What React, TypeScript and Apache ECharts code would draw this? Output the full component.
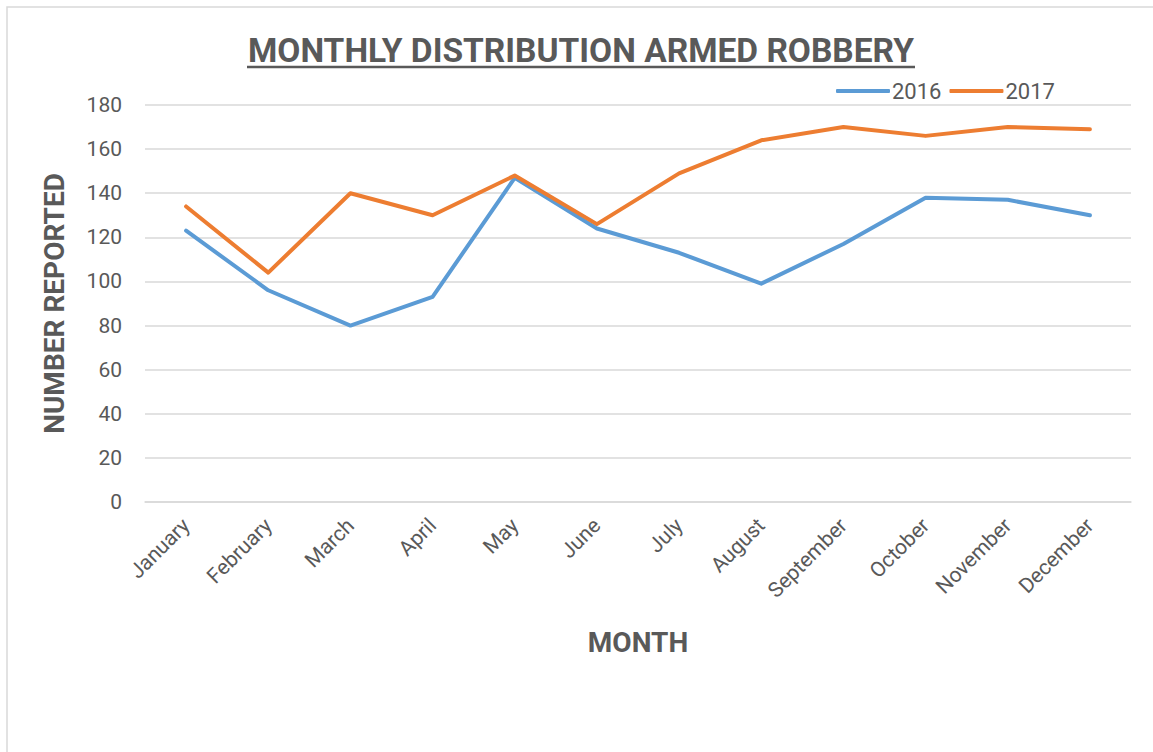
import React, { useEffect, useRef } from "react";
import * as echarts from "echarts";

const months = [
  "January", "February", "March", "April", "May", "June",
  "July", "August", "September", "October", "November", "December",
];
const series2016 = [123, 96, 80, 93, 147, 124, 113, 99, 117, 138, 137, 130];
const series2017 = [134, 104, 140, 130, 148, 126, 149, 164, 170, 166, 170, 169];
const yTicks = { min: 0, max: 180, interval: 20 };

const TEXT = "#595959";
const FONT = "Roboto, 'Open Sans', sans-serif";

export default function App() {
  const ref = useRef<HTMLDivElement>(null);
  useEffect(() => {
    if (!ref.current) return;
    const chart = echarts.init(ref.current, undefined, { renderer: "svg" });
    chart.setOption({
      animation: false,
      backgroundColor: "#ffffff",
      textStyle: { fontFamily: FONT },
      grid: { left: 145, right: 22, top: 105, bottom: 250, containLabel: false },
      legend: {
        left: 831,
        top: 75,
        itemWidth: 54,
        itemHeight: 4,
        itemGap: 8,
        icon: "roundRect",
        textStyle: { color: TEXT, fontSize: 22, fontFamily: FONT, padding: [0, 0, 0, -3] },
        data: ["2016", "2017"],
      },
      xAxis: {
        type: "category",
        data: months,
        boundaryGap: true,
        axisLine: { show: true, lineStyle: { color: "#D9D9D9", width: 1.5 } },
        axisTick: { show: false },
        axisLabel: { rotate: 45, color: TEXT, fontSize: 21, margin: 20, fontFamily: FONT },
        name: "MONTH",
        nameLocation: "middle",
        nameGap: 126,
        nameTextStyle: { color: TEXT, fontSize: 28, fontWeight: "bold", fontFamily: FONT },
      },
      yAxis: {
        type: "value",
        min: yTicks.min,
        max: yTicks.max,
        interval: yTicks.interval,
        axisLine: { show: false },
        axisTick: { show: false },
        splitLine: { lineStyle: { color: "#D9D9D9", width: 1.5 } },
        axisLabel: { color: TEXT, fontSize: 21, margin: 23, fontFamily: FONT },
        name: "NUMBER REPORTED",
        nameLocation: "middle",
        nameGap: 77,
        nameTextStyle: { color: TEXT, fontSize: 28, fontWeight: "bold", fontFamily: FONT },
      },
      series: [
        {
          name: "2016",
          type: "line",
          data: series2016,
          symbol: "none",
          lineStyle: { color: "#5B9BD5", width: 4, cap: "round", join: "round" },
          itemStyle: { color: "#5B9BD5" },
        },
        {
          name: "2017",
          type: "line",
          data: series2017,
          symbol: "none",
          lineStyle: { color: "#ED7D31", width: 4, cap: "round", join: "round" },
          itemStyle: { color: "#ED7D31" },
        },
      ],
      graphic: [
        {
          type: "rect",
          shape: { x: 7, y: 7, width: 1200, height: 800 },
          style: { fill: "none", stroke: "#D9D9D9", lineWidth: 1.5 },
          silent: true,
        },
        {
          type: "text",
          x: 581,
          y: 50,
          style: {
            text: "MONTHLY DISTRIBUTION ARMED ROBBERY",
            fill: TEXT,
            font: "bold 33.5px " + FONT,
            textAlign: "center",
            textVerticalAlign: "middle",
          },
        },
        {
          type: "line",
          shape: { x1: 247, y1: 67, x2: 915, y2: 67 },
          style: { stroke: TEXT, lineWidth: 2.5 },
        },
      ],
    });
    return () => chart.dispose();
  }, []);
  return (
    <div
      ref={ref}
      style={{ position: "fixed", left: 0, top: 0, width: 1153, height: 752 }}
    />
  );
}
